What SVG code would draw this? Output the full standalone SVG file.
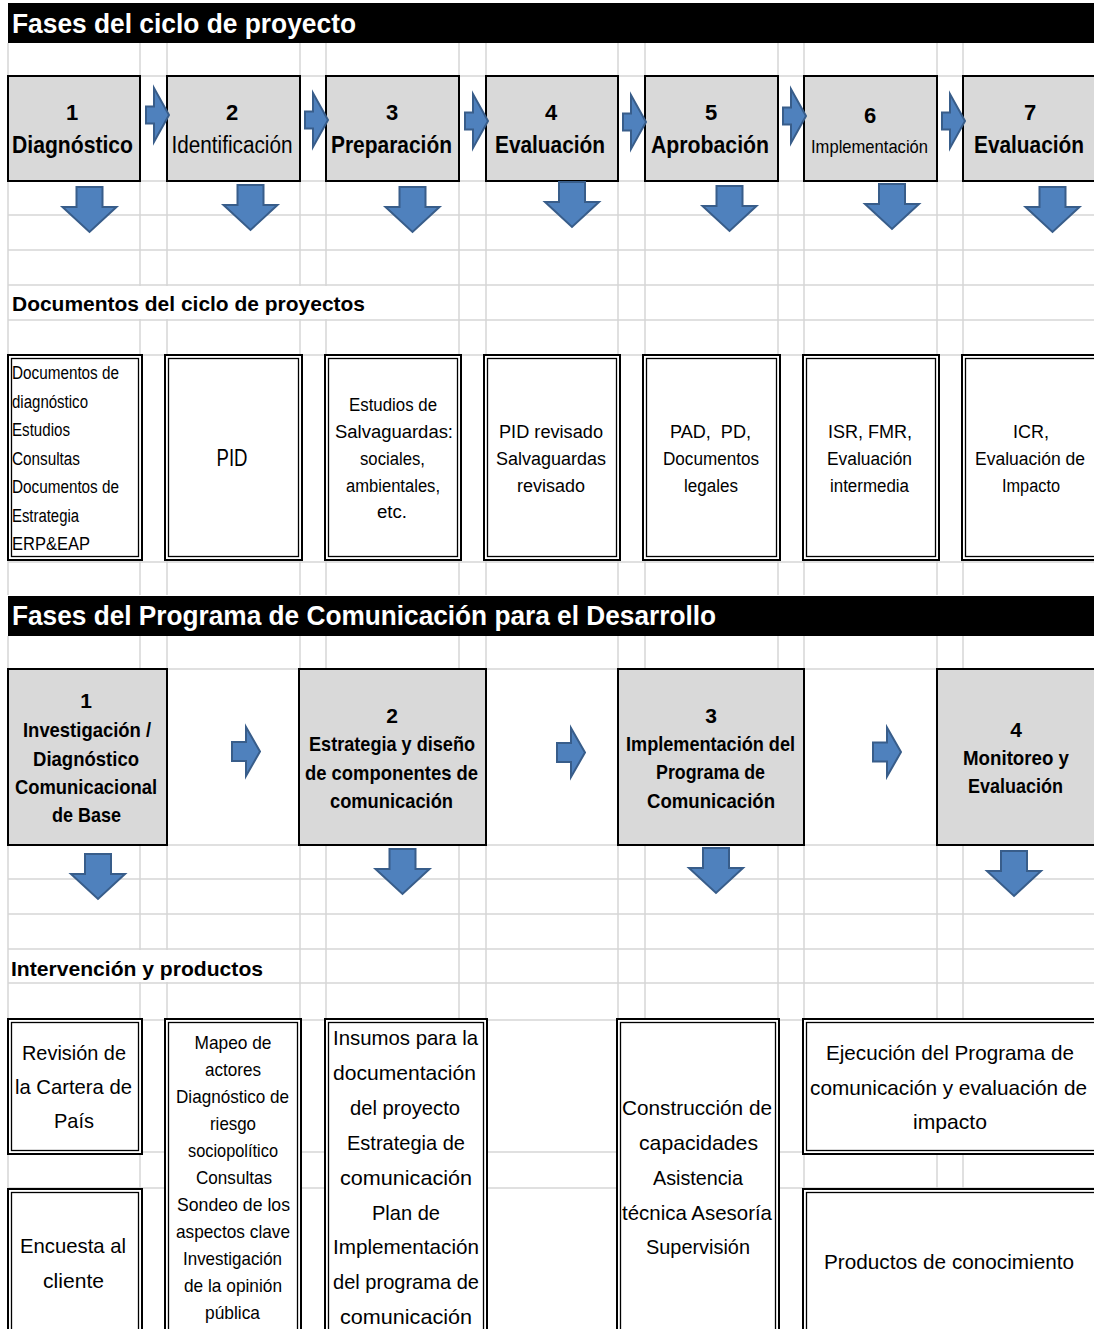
<svg xmlns="http://www.w3.org/2000/svg" xmlns:xlink="http://www.w3.org/1999/xlink" width="1094" height="1329" viewBox="0 0 1094 1329">
<style>
  text { font-family: "Liberation Sans", Arial, Helvetica, sans-serif; fill: #000; }
  .b { font-weight: bold; }
  .c { text-anchor: middle; }
  .hdr { fill: #fff; font-weight: bold; font-size: 27px; }
  .grid { stroke: #d6d6d6; stroke-width: 1.5; fill: none; }
  .phase { fill: #d9d9d9; stroke: #000; stroke-width: 2; }
  .dbo { fill: #fff; stroke: #000; stroke-width: 2; }
  .dbi { fill: none; stroke: #000; stroke-width: 1.3; }
  .arr { fill: #4f81bd; stroke: #385d8a; stroke-width: 2; stroke-linejoin: miter; }
  .n { font-size: 22px; font-weight: bold; }
  .nm { font-size: 23px; }
  .d18 { font-size: 18px; }
  .p21 { font-size: 21px; font-weight: bold; }
  .r21 { font-size: 21px; }
  .r19 { font-size: 19px; }
</style>
<defs>
  <path id="rarr" d="M0,-8.5 H8 V-27 L23,0 L8,27 V8.5 H0 Z"/>
  <path id="rarr2" d="M0,-9.5 H14 V-24.5 L28,0 L14,24.5 V9.5 H0 Z"/>
  <path id="darr" d="M-13,0 H13 V20 H27 L0,45 L-27,20 H-13 Z"/>
</defs>
<rect x="0" y="0" width="1094" height="1329" fill="#fff"/>

<g id="grid">
  <path class="grid" d="M8,43 V595 M140,43 V595 M167,43 V595 M300,43 V595 M326,43 V595 M459,43 V595 M486,43 V595 M618,43 V595 M645,43 V595 M778,43 V595 M804,43 V595 M937,43 V595 M963,43 V595
  M8,636 V1329 M140,636 V1329 M167,636 V1329 M300,636 V1329 M326,636 V1329 M459,636 V1329 M486,636 V1329 M618,636 V1329 M645,636 V1329 M778,636 V1329 M804,636 V1329 M937,636 V1329 M963,636 V1329
  M8,76 H1094 M8,181 H1094 M8,215 H1094 M8,250 H1094 M8,285 H1094 M8,320 H1094 M8,355 H1094 M8,562 H1094
  M8,669 H1094 M8,845 H1094 M8,879 H1094 M8,914 H1094 M8,949 H1094 M8,983 H1094 M8,1020 H1094 M8,1152 H1094 M8,1188 H1094"/>
  <rect x="9" y="286" width="449" height="33" fill="#fff"/>
  <rect x="9" y="950" width="290" height="32" fill="#fff"/>
</g>

<g id="header1">
  <rect x="8" y="3" width="1086" height="40" fill="#000"/>
  <text class="hdr" x="12" y="33" textLength="344" lengthAdjust="spacingAndGlyphs">Fases del ciclo de proyecto</text>
</g>

<g id="phase1-1">
  <rect class="phase" x="8" y="76" width="132" height="105"/>
  <text class="n c" x="72" y="120">1</text>
  <text class="nm b c" x="72.5" y="153" textLength="121" lengthAdjust="spacingAndGlyphs">Diagnóstico</text>
</g>
<g id="phase1-2">
  <rect class="phase" x="167" y="76" width="133" height="105"/>
  <text class="n c" x="232" y="120">2</text>
  <text class="nm c" x="232" y="153" textLength="121" lengthAdjust="spacingAndGlyphs">Identificación</text>
</g>
<g id="phase1-3">
  <rect class="phase" x="326" y="76" width="133" height="105"/>
  <text class="n c" x="392" y="120">3</text>
  <text class="nm b c" x="391.5" y="153" textLength="121" lengthAdjust="spacingAndGlyphs">Preparación</text>
</g>
<g id="phase1-4">
  <rect class="phase" x="486" y="76" width="132" height="105"/>
  <text class="n c" x="551" y="120">4</text>
  <text class="nm b c" x="550" y="153" textLength="110" lengthAdjust="spacingAndGlyphs">Evaluación</text>
</g>
<g id="phase1-5">
  <rect class="phase" x="645" y="76" width="133" height="105"/>
  <text class="n c" x="711" y="120">5</text>
  <text class="nm b c" x="710" y="153" textLength="118" lengthAdjust="spacingAndGlyphs">Aprobación</text>
</g>
<g id="phase1-6">
  <rect class="phase" x="804" y="76" width="133" height="105"/>
  <text class="n c" x="870" y="123">6</text>
  <text class="c" style="font-size:19px" x="869.5" y="153" textLength="117" lengthAdjust="spacingAndGlyphs">Implementación</text>
</g>
<g id="phase1-7">
  <rect class="phase" x="963" y="76" width="140" height="105"/>
  <text class="n c" x="1030" y="120">7</text>
  <text class="nm b c" x="1029" y="153" textLength="110" lengthAdjust="spacingAndGlyphs">Evaluación</text>
</g>

<g id="title-docs">
  <text class="p21" x="12" y="311" textLength="353" lengthAdjust="spacingAndGlyphs">Documentos del ciclo de proyectos</text>
</g>

<g id="doc-1">
  <rect class="dbo" x="8" y="355" width="134" height="205"/>
  <rect class="dbi" x="11.5" y="358.5" width="127" height="198"/>
  <text class="d18" x="12" y="379" textLength="107" lengthAdjust="spacingAndGlyphs">Documentos de</text>
  <text class="d18" x="12" y="408" textLength="76" lengthAdjust="spacingAndGlyphs">diagnóstico</text>
  <text class="d18" x="12" y="436" textLength="58" lengthAdjust="spacingAndGlyphs">Estudios</text>
  <text class="d18" x="12" y="465" textLength="68" lengthAdjust="spacingAndGlyphs">Consultas</text>
  <text class="d18" x="12" y="493" textLength="107" lengthAdjust="spacingAndGlyphs">Documentos de</text>
  <text class="d18" x="12" y="522" textLength="67" lengthAdjust="spacingAndGlyphs">Estrategia</text>
  <text class="d18" x="12" y="550" textLength="78" lengthAdjust="spacingAndGlyphs">ERP&amp;EAP</text>
</g>
<g id="doc-2">
  <rect class="dbo" x="165" y="355" width="137" height="205"/>
  <rect class="dbi" x="168.5" y="358.5" width="130" height="198"/>
  <text class="c" style="font-size:23px" x="232" y="466" textLength="31" lengthAdjust="spacingAndGlyphs">PID</text>
</g>
<g id="doc-3">
  <rect class="dbo" x="325" y="355" width="136" height="205"/>
  <rect class="dbi" x="328.5" y="358.5" width="129" height="198"/>
  <text class="d18 c" x="393" y="411" textLength="88" lengthAdjust="spacingAndGlyphs">Estudios de</text>
  <text class="d18 c" x="394" y="438" textLength="118" lengthAdjust="spacingAndGlyphs">Salvaguardas:</text>
  <text class="d18 c" x="392.5" y="465" textLength="65" lengthAdjust="spacingAndGlyphs">sociales,</text>
  <text class="d18 c" x="393" y="492" textLength="94" lengthAdjust="spacingAndGlyphs">ambientales,</text>
  <text class="d18 c" x="392" y="518" textLength="30" lengthAdjust="spacingAndGlyphs">etc.</text>
</g>
<g id="doc-4">
  <rect class="dbo" x="484" y="355" width="136" height="205"/>
  <rect class="dbi" x="487.5" y="358.5" width="129" height="198"/>
  <text class="d18 c" x="551" y="438" textLength="104" lengthAdjust="spacingAndGlyphs">PID revisado</text>
  <text class="d18 c" x="551" y="465" textLength="110" lengthAdjust="spacingAndGlyphs">Salvaguardas</text>
  <text class="d18 c" x="551" y="492" textLength="68" lengthAdjust="spacingAndGlyphs">revisado</text>
</g>
<g id="doc-5">
  <rect class="dbo" x="643" y="355" width="137" height="205"/>
  <rect class="dbi" x="646.5" y="358.5" width="130" height="198"/>
  <text class="d18 c" x="710.5" y="438" textLength="81" lengthAdjust="spacingAndGlyphs" xml:space="preserve">PAD,  PD,</text>
  <text class="d18 c" x="711" y="465" textLength="96" lengthAdjust="spacingAndGlyphs">Documentos</text>
  <text class="d18 c" x="711" y="492" textLength="54" lengthAdjust="spacingAndGlyphs">legales</text>
</g>
<g id="doc-6">
  <rect class="dbo" x="803" y="355" width="136" height="205"/>
  <rect class="dbi" x="806.5" y="358.5" width="129" height="198"/>
  <text class="d18 c" x="870" y="438" textLength="84" lengthAdjust="spacingAndGlyphs">ISR, FMR,</text>
  <text class="d18 c" x="869.5" y="465" textLength="85" lengthAdjust="spacingAndGlyphs">Evaluación</text>
  <text class="d18 c" x="869.5" y="492" textLength="79" lengthAdjust="spacingAndGlyphs">intermedia</text>
</g>
<g id="doc-7">
  <rect class="dbo" x="962" y="355" width="140" height="205"/>
  <rect class="dbi" x="965.5" y="358.5" width="133" height="198"/>
  <text class="d18 c" x="1031" y="438" textLength="36" lengthAdjust="spacingAndGlyphs">ICR,</text>
  <text class="d18 c" x="1030" y="465" textLength="110" lengthAdjust="spacingAndGlyphs">Evaluación de</text>
  <text class="d18 c" x="1031" y="492" textLength="58" lengthAdjust="spacingAndGlyphs">Impacto</text>
</g>

<g id="header2">
  <rect x="8" y="596" width="1086" height="40" fill="#000"/>
  <text class="hdr" x="12" y="625" textLength="704" lengthAdjust="spacingAndGlyphs">Fases del Programa de Comunicación para el Desarrollo</text>
</g>

<g id="phase2-1">
  <rect class="phase" x="8" y="669" width="159" height="176"/>
  <text class="p21 c" x="86" y="708">1</text>
  <text class="p21 c" x="87" y="737" textLength="128" lengthAdjust="spacingAndGlyphs">Investigación /</text>
  <text class="p21 c" x="86" y="766" textLength="106" lengthAdjust="spacingAndGlyphs">Diagnóstico</text>
  <text class="p21 c" x="86" y="794" textLength="142" lengthAdjust="spacingAndGlyphs">Comunicacional</text>
  <text class="p21 c" x="86.5" y="822" textLength="69" lengthAdjust="spacingAndGlyphs">de Base</text>
</g>
<g id="phase2-2">
  <rect class="phase" x="299" y="669" width="187" height="176"/>
  <text class="p21 c" x="392" y="723">2</text>
  <text class="p21 c" x="392" y="751" textLength="166" lengthAdjust="spacingAndGlyphs">Estrategia y diseño</text>
  <text class="p21 c" x="391.5" y="780" textLength="173" lengthAdjust="spacingAndGlyphs">de componentes de</text>
  <text class="p21 c" x="391.5" y="808" textLength="123" lengthAdjust="spacingAndGlyphs">comunicación</text>
</g>
<g id="phase2-3">
  <rect class="phase" x="618" y="669" width="186" height="176"/>
  <text class="p21 c" x="711" y="723">3</text>
  <text class="p21 c" x="710.5" y="751" textLength="169" lengthAdjust="spacingAndGlyphs">Implementación del</text>
  <text class="p21 c" x="710.5" y="779" textLength="109" lengthAdjust="spacingAndGlyphs">Programa de</text>
  <text class="p21 c" x="711" y="808" textLength="128" lengthAdjust="spacingAndGlyphs">Comunicación</text>
</g>
<g id="phase2-4">
  <rect class="phase" x="937" y="669" width="170" height="176"/>
  <text class="p21 c" x="1016" y="737">4</text>
  <text class="p21 c" x="1016" y="765" textLength="106" lengthAdjust="spacingAndGlyphs">Monitoreo y</text>
  <text class="p21 c" x="1015.5" y="793" textLength="95" lengthAdjust="spacingAndGlyphs">Evaluación</text>
</g>

<g id="title-interv">
  <text class="p21" x="11" y="976" textLength="252" lengthAdjust="spacingAndGlyphs">Intervención y productos</text>
</g>

<g id="prod-A">
  <rect class="dbo" x="8" y="1019" width="134" height="135"/>
  <rect class="dbi" x="11.5" y="1022.5" width="127" height="128"/>
  <text class="r21 c" x="74" y="1060" textLength="104" lengthAdjust="spacingAndGlyphs">Revisión de</text>
  <text class="r21 c" x="73.5" y="1094" textLength="117" lengthAdjust="spacingAndGlyphs">la Cartera de</text>
  <text class="r21 c" x="74" y="1128" textLength="40" lengthAdjust="spacingAndGlyphs">País</text>
</g>
<g id="prod-B">
  <rect class="dbo" x="8" y="1189" width="134" height="160"/>
  <rect class="dbi" x="11.5" y="1192.5" width="127" height="153"/>
  <text class="r21 c" x="73" y="1253" textLength="106" lengthAdjust="spacingAndGlyphs">Encuesta al</text>
  <text class="r21 c" x="73.5" y="1288" textLength="61" lengthAdjust="spacingAndGlyphs">cliente</text>
</g>
<g id="prod-C">
  <rect class="dbo" x="165" y="1019" width="136" height="330"/>
  <rect class="dbi" x="168.5" y="1022.5" width="129" height="323"/>
  <text class="r19 c" x="233" y="1049" textLength="77" lengthAdjust="spacingAndGlyphs">Mapeo de</text>
  <text class="r19 c" x="233" y="1076" textLength="56" lengthAdjust="spacingAndGlyphs">actores</text>
  <text class="r19 c" x="232.5" y="1103" textLength="113" lengthAdjust="spacingAndGlyphs">Diagnóstico de</text>
  <text class="r19 c" x="233" y="1130" textLength="46" lengthAdjust="spacingAndGlyphs">riesgo</text>
  <text class="r19 c" x="233" y="1157" textLength="90" lengthAdjust="spacingAndGlyphs">sociopolítico</text>
  <text class="r19 c" x="234" y="1184" textLength="76" lengthAdjust="spacingAndGlyphs">Consultas</text>
  <text class="r19 c" x="233.5" y="1211" textLength="113" lengthAdjust="spacingAndGlyphs">Sondeo de los</text>
  <text class="r19 c" x="233" y="1238" textLength="114" lengthAdjust="spacingAndGlyphs">aspectos clave</text>
  <text class="r19 c" x="232.5" y="1265" textLength="99" lengthAdjust="spacingAndGlyphs">Investigación</text>
  <text class="r19 c" x="233" y="1292" textLength="98" lengthAdjust="spacingAndGlyphs">de la opinión</text>
  <text class="r19 c" x="232.5" y="1319" textLength="55" lengthAdjust="spacingAndGlyphs">pública</text>
</g>
<g id="prod-D">
  <rect class="dbo" x="325" y="1019" width="162" height="330"/>
  <rect class="dbi" x="328.5" y="1022.5" width="155" height="323"/>
  <text class="r21 c" x="405.5" y="1045" textLength="145" lengthAdjust="spacingAndGlyphs">Insumos para la</text>
  <text class="r21 c" x="404.5" y="1080" textLength="143" lengthAdjust="spacingAndGlyphs">documentación</text>
  <text class="r21 c" x="405" y="1115" textLength="110" lengthAdjust="spacingAndGlyphs">del proyecto</text>
  <text class="r21 c" x="406" y="1150" textLength="118" lengthAdjust="spacingAndGlyphs">Estrategia de</text>
  <text class="r21 c" x="406" y="1185" textLength="132" lengthAdjust="spacingAndGlyphs">comunicación</text>
  <text class="r21 c" x="406" y="1220" textLength="68" lengthAdjust="spacingAndGlyphs">Plan de</text>
  <text class="r21 c" x="406" y="1254" textLength="146" lengthAdjust="spacingAndGlyphs">Implementación</text>
  <text class="r21 c" x="406" y="1289" textLength="146" lengthAdjust="spacingAndGlyphs">del programa de</text>
  <text class="r21 c" x="406" y="1324" textLength="132" lengthAdjust="spacingAndGlyphs">comunicación</text>
</g>
<g id="prod-E">
  <rect class="dbo" x="617" y="1019" width="162" height="330"/>
  <rect class="dbi" x="620.5" y="1022.5" width="155" height="323"/>
  <text class="r21 c" x="697" y="1115" textLength="150" lengthAdjust="spacingAndGlyphs">Construcción de</text>
  <text class="r21 c" x="698.5" y="1150" textLength="119" lengthAdjust="spacingAndGlyphs">capacidades</text>
  <text class="r21 c" x="698" y="1185" textLength="90" lengthAdjust="spacingAndGlyphs">Asistencia</text>
  <text class="r21 c" x="697" y="1220" textLength="150" lengthAdjust="spacingAndGlyphs">técnica Asesoría</text>
  <text class="r21 c" x="698" y="1254" textLength="104" lengthAdjust="spacingAndGlyphs">Supervisión</text>
</g>
<g id="prod-F">
  <rect class="dbo" x="803" y="1019" width="300" height="135"/>
  <rect class="dbi" x="806.5" y="1022.5" width="293" height="128"/>
  <text class="r21 c" x="950" y="1060" textLength="248" lengthAdjust="spacingAndGlyphs">Ejecución del Programa de</text>
  <text class="r21 c" x="948.5" y="1095" textLength="277" lengthAdjust="spacingAndGlyphs">comunicación y evaluación de</text>
  <text class="r21 c" x="950" y="1129" textLength="74" lengthAdjust="spacingAndGlyphs">impacto</text>
</g>
<g id="prod-G">
  <rect class="dbo" x="803" y="1189" width="300" height="160"/>
  <rect class="dbi" x="806.5" y="1192.5" width="293" height="153"/>
  <text class="r21 c" x="949" y="1269" textLength="250" lengthAdjust="spacingAndGlyphs">Productos de conocimiento</text>
</g>

<g id="connectors">
  <use href="#rarr" class="arr" x="146" y="115"/>
  <use href="#rarr" class="arr" x="305" y="120"/>
  <use href="#rarr" class="arr" x="465" y="121"/>
  <use href="#rarr" class="arr" x="623" y="122"/>
  <use href="#rarr" class="arr" x="783" y="116"/>
  <use href="#rarr" class="arr" x="942" y="121"/>
  <use href="#darr" class="arr" x="89.5" y="187"/>
  <use href="#darr" class="arr" x="250.5" y="185"/>
  <use href="#darr" class="arr" x="412.5" y="187"/>
  <use href="#darr" class="arr" x="572" y="182"/>
  <use href="#darr" class="arr" x="729.5" y="186"/>
  <use href="#darr" class="arr" x="892" y="184"/>
  <use href="#darr" class="arr" x="1052.5" y="187"/>
  <use href="#rarr2" class="arr" x="232" y="751.5"/>
  <use href="#rarr2" class="arr" x="557" y="752.5"/>
  <use href="#rarr2" class="arr" x="873" y="752"/>
  <use href="#darr" class="arr" x="98" y="854"/>
  <use href="#darr" class="arr" x="402.5" y="849"/>
  <use href="#darr" class="arr" x="716" y="848"/>
  <use href="#darr" class="arr" x="1014" y="851"/>
</g>
</svg>
